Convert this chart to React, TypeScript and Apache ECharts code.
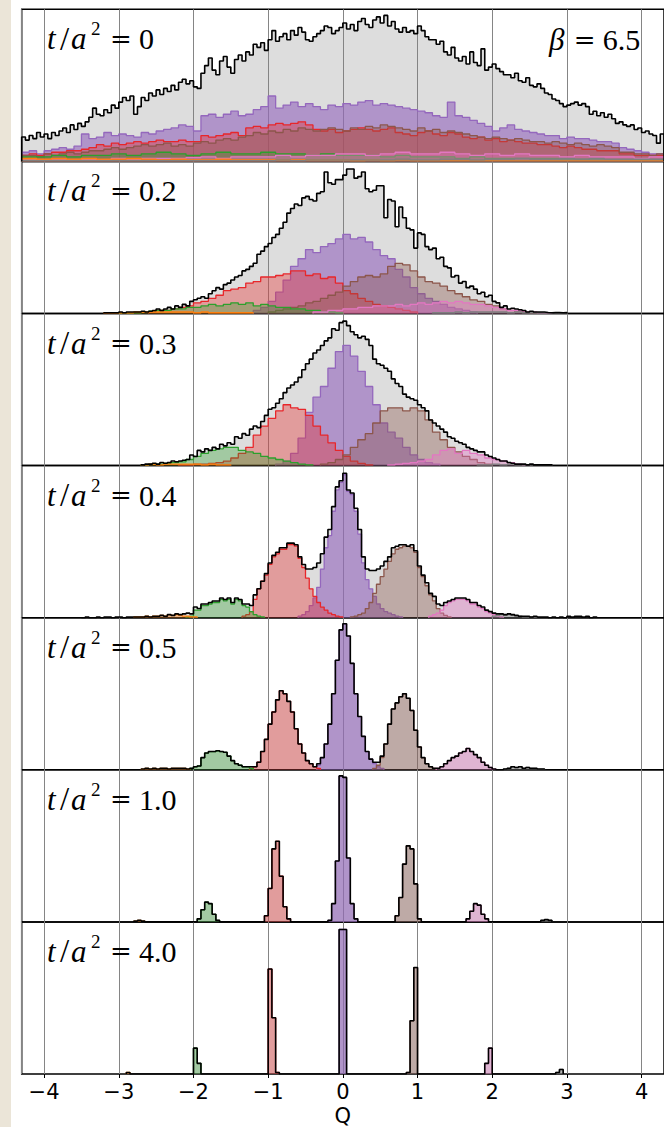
import React, { useEffect, useRef } from "react";
import * as echarts from "echarts";

// ---------------- data ----------------
const Q_MIN = -4.3;
const Q_MAX = 4.3;
const flowTimes = ["0", "0.2", "0.3", "0.4", "0.5", "1.0", "4.0"];
const betaValue = "6.5";
const xTickValues = [-4, -3, -2, -1, 0, 1, 2, 3, 4];

// panel 1 : t/a^2 = 0
const p1_all = { from: -4.3, bin: 0.05, counts: [
  16, 14, 17, 15, 19, 16, 18, 15, 19, 17,
  20, 22, 19, 24, 21, 25, 23, 26, 29, 35,
  31, 30, 34, 32, 37, 35, 39, 42, 40, 43,
  31, 36, 42, 40, 45, 43, 47, 44, 48, 46,
  50, 47, 52, 54, 51, 53, 49, 48, 58, 63,
  68, 60, 57, 66, 69, 62, 58, 67, 70, 66,
  72, 70, 77, 75, 78, 73, 80, 86, 79, 82,
  84, 80, 86, 83, 88, 85, 80, 79, 82, 84,
  86, 89, 88, 84, 86, 88, 91, 87, 90, 86,
  92, 94, 90, 88, 93, 95, 91, 96, 89, 92,
  87, 85, 88, 85, 86, 84, 89, 86, 82, 80,
  80, 77, 79, 72, 70, 75, 68, 66, 69, 64,
  72, 65, 63, 74, 60, 62, 64, 61, 59, 57,
  57, 55, 58, 53, 52, 55, 50, 49, 51, 48,
  45, 44, 41, 40, 38, 36, 37, 38, 39, 37,
  38, 36, 31, 33, 30, 32, 29, 31, 28, 25,
  26, 24, 23, 24, 21, 22, 19, 20, 18, 17,
  12, 18] };
const p1_q0 = { from: -4.3, bin: 0.1, counts: [
  6, 7, 5, 7, 8, 9, 8, 10, 18, 15,
  16, 19, 17, 18, 17, 16, 19, 18, 20, 21,
  22, 24, 23, 20, 30, 31, 29, 31, 33, 30,
  31, 34, 36, 43, 35, 37, 39, 36, 38, 36,
  34, 37, 36, 38, 37, 39, 40, 37, 38, 37,
  36, 35, 34, 33, 32, 30, 29, 39, 30, 29,
  27, 25, 23, 20, 22, 24, 21, 20, 19, 18,
  17, 17, 15, 16, 15, 15, 14, 13, 13, 12,
  9, 8, 7, 6, 5, 5] };
const p1_qm1 = { from: -4.3, bin: 0.1, counts: [
  4, 5, 4, 5, 6, 6, 7, 7, 8, 9,
  11, 10, 12, 11, 12, 13, 12, 13, 14, 13,
  13, 14, 13, 13, 17, 16, 17, 18, 19, 17,
  22, 23, 22, 24, 25, 24, 25, 26, 24, 21,
  20, 21, 19, 20, 21, 22, 21, 20, 21, 22,
  19, 18, 17, 19, 20, 18, 17, 19, 18, 16,
  15, 16, 14, 15, 13, 14, 13, 12, 12, 11,
  11, 10, 9, 10, 9, 8, 8, 7, 7, 7,
  5, 5, 4, 4, 4, 4] };
const p1_qp1 = { from: -4.3, bin: 0.1, counts: [
  4, 4, 3, 5, 4, 5, 6, 5, 6, 7,
  7, 8, 9, 8, 9, 10, 11, 10, 11, 12,
  10, 11, 10, 12, 13, 12, 14, 15, 14, 16,
  17, 19, 18, 20, 19, 21, 20, 22, 21, 20,
  21, 22, 21, 20, 22, 21, 23, 22, 24, 23,
  22, 21, 20, 22, 20, 21, 19, 20, 19, 18,
  17, 16, 15, 16, 15, 14, 15, 14, 13, 13,
  12, 13, 12, 11, 12, 11, 10, 11, 10, 9,
  6, 6, 5, 5, 4, 5] };
const p1_qm2 = { from: -4.3, bin: 0.2, counts: [
  3, 3, 4, 3, 4, 4, 5, 4, 5, 6, 5, 4, 5, 6, 5, 5, 6, 5, 5, 4,
  5, 4, 4, 4, 3, 4, 3, 3, 3, 2, 3, 2, 2, 2, 2, 2, 1.5, 1.5, 1, 1, 1, 1, 1] };
const p1_qp2 = { from: -4.3, bin: 0.2, counts: [
  1, 1, 1, 1, 1.5, 1, 2, 1.5, 2, 2, 2, 2.5, 3, 2, 3, 3, 3, 4, 3, 4,
  4, 5, 5, 4, 5, 6, 5, 5, 6, 5, 4, 5, 4, 5, 4, 4, 3, 4, 3, 3, 3, 2, 3] };
const p1_qm3 = { from: -4.3, bin: 0.2, counts: [
  2, 1.5, 2, 1.5, 2, 1.5, 1.5, 2, 1.5, 1, 1.5, 1, 1, 1.5, 1, 1, 1, 1, 1, 1,
  1, 1, 0.5, 1, 0.5, 1, 0.5, 0.5, 0.5, 0.5, 0.5, 0.5, 0.5, 0.5, 0.5, 0.5, 0.5, 0.5, 0.5, 0.5, 0.5, 0.5, 0.5] };
const p1_qp3 = { from: -4.3, bin: 0.2, counts: [
  0.5, 0.5, 0.5, 0.5, 0.5, 0.5, 0.5, 0.5, 0.5, 0.5, 0.5, 0.5, 0.5, 0.5, 0.5, 0.5, 0.5, 1, 0.5, 1,
  1, 1, 1, 1, 1, 1.5, 1, 1, 1.5, 1.5, 1, 1.5, 1.5, 2, 1.5, 1.5, 2, 1.5, 2, 1.5, 1.5, 1.5, 1.5] };

// panel 2 : t/a^2 = 0.2
const p2_all = { from: -3.2, bin: 0.05, counts: [
  0.5, 0.5, 0.5, 0.5, 1, 0.5, 1, 1, 1, 1,
  1.5, 1, 1.5, 2, 3, 2, 3, 4, 3, 5,
  4, 6, 5, 8, 9, 10, 11, 10, 13, 15,
  17, 16, 19, 20, 22, 24, 25, 28, 29, 31,
  33, 39, 41, 44, 46, 50, 52, 56, 60, 66,
  69, 72, 71, 76, 77, 75, 74, 79, 80, 93,
  86,
  85, 88, 88, 91, 95, 95, 89, 90, 93, 82,
  80, 81, 84, 84, 63, 75, 74, 57, 70, 63,
  56, 55, 43, 53, 52, 44, 42, 43, 36, 37,
  31, 30, 24, 25, 20, 21, 17, 18, 16, 13,
  14, 11, 12, 8, 7, 4, 5, 3, 3.5, 3,
  2.5, 2, 1, 1.5, 1, 1, 1, 0.7, 0.5, 0.7,
  0.7, 0.5, 0.7] };
const p2_q0 = { from: -1.2, bin: 0.1, counts: [
  2, 4, 8, 14, 22, 31, 36, 42, 40, 44, 46, 49, 52, 49, 50, 47, 42, 38, 36, 29,
  24, 17, 13, 10, 8, 6, 4, 3, 2, 1] };
const p2_qm1 = { from: -2.6, bin: 0.1, counts: [
  1, 2, 2, 3, 4, 5, 7, 8, 10, 12, 15, 16, 17, 20, 21, 24, 24, 25, 26, 28,
  28, 25, 26, 23, 24, 20, 15, 13, 10, 8, 6, 5, 4, 3, 2, 1] };
const p2_qp1 = { from: -1.0, bin: 0.1, counts: [
  1, 2, 3, 4, 5, 7, 8, 10, 12, 14, 18, 21, 24, 25, 24, 26, 31, 33, 32, 28,
  24, 21, 20, 18, 15, 13, 11, 9, 8, 6, 5, 3, 2, 1, 1, 0.5] };
const p2_qm2 = { from: -3.0, bin: 0.1, counts: [
  0.5, 0.5, 0.5, 1, 1.5, 2, 2, 3, 3, 4, 4, 5, 6, 5, 6, 7, 6, 7, 5, 6,
  5, 4, 4, 3, 3, 2, 2, 1, 1, 0.5] };
const p2_qp2 = { from: -0.4, bin: 0.1, counts: [
  1, 1, 2, 2, 3, 3, 4, 4, 5, 5, 5, 6, 5, 6, 7, 6, 7, 8, 7, 8,
  7, 6, 6, 5, 4, 3, 2, 2, 1, 1, 0.5, 0.5] };
const p2_qm3 = { from: -3.2, bin: 0.1, counts: [
  0.5, 0.5, 0.5, 0.5, 1, 1, 1, 1, 1, 1, 1, 1, 0.5, 1, 0.5, 0.5, 0.5, 0.5, 0.5, 0.5] };
const p2_qp3 = { from: 1.2, bin: 0.1, counts: [
  0.5, 0.5, 0.5, 1, 0.5, 1, 1, 1, 1, 1, 0.5, 1, 0.5, 0.5, 0.5, 0.5, 0.5, 0.5] };

// panel 3 : t/a^2 = 0.3
const p3_all = { from: -2.7, bin: 0.05, counts: [
  0.5, 1, 1, 1.5, 1, 2, 1.5, 2, 3, 2.5,
  3, 3.5, 4, 7, 6, 10, 9, 11, 10, 12,
  11, 14, 13, 15, 14, 19, 18, 21, 20, 24,
  26, 25, 29, 33, 37, 38, 41, 44, 48, 51,
  53, 55, 58, 63, 67, 70, 74, 76, 79, 82,
  84, 90, 89, 94, 95, 92, 88, 86, 84, 85,
  83, 79, 70, 67, 66, 64, 62, 57, 54, 52,
  47, 45, 44, 43, 40, 38, 36, 30, 28, 26,
  24, 22, 19, 18, 16, 15, 14, 12, 11, 10,
  9, 9, 7, 6, 5, 4, 3, 3, 2, 1.5,
  1, 1, 1, 0.5, 1, 0.5, 0.5, 0.5, 0.5, 0.5] };
const p3_q0 = { from: -0.9, bin: 0.1, counts: [
  1, 3, 8, 18, 35, 45, 52, 64, 75, 79, 72, 62, 52, 40, 28, 22, 18, 12, 7, 4, 2, 1] };
const p3_qm1 = { from: -2.2, bin: 0.1, counts: [
  0.5, 0.5, 1, 1, 1.5, 2, 3, 5, 8, 12, 20, 26, 31, 36, 40, 38, 37, 33, 26, 20,
  15, 10, 6, 3, 1.5, 0.5] };
const p3_qp1 = { from: -0.3, bin: 0.1, counts: [
  1, 2, 4, 7, 12, 17, 21, 28, 36, 38, 38, 36, 38, 36, 30, 22, 17, 12, 9, 6, 4, 2, 1] };
const p3_qm2 = { from: -2.7, bin: 0.1, counts: [
  0.5, 1, 1, 1.5, 2, 2.5, 4, 6, 8, 10, 11, 12, 12, 10, 9, 8, 6, 5, 4, 3, 2, 1, 0.5] };
const p3_qp2 = { from: 0.6, bin: 0.1, counts: [
  0.5, 1, 1.5, 2, 3, 4, 7, 10, 11, 8, 10, 8, 7, 5, 4, 3, 2, 1, 0.5] };
const p3_qm3 = { from: -2.7, bin: 0.1, counts: [
  0.5, 1, 0.5, 1, 1, 1, 1, 1, 0.5, 1, 0.5, 0.5] };
const p3_qp3 = { from: 1.8, bin: 0.1, counts: [
  0.5, 0.5, 1, 0.5, 1, 0.5, 0.5, 0.5, 0.5, 0.5] };

// panel 4 : t/a^2 = 0.4
const p4_all = { from: -3.5, bin: 0.05, counts: [
  0, 0.5, 0, 0, 0.5, 0, 0.5, 0.5, 0, 0.5,
  0.5, 0, 0.5, 0.5, 0.5, 0.5, 0.5, 1, 0.5, 1,
  1, 1.5, 1, 2, 1.5, 2.5, 2, 2.5, 3, 2.5,
  7, 6, 9, 9, 10, 11, 11, 13, 12, 13,
  10, 13, 12, 9, 9, 8, 15, 19, 24, 29,
  36, 41, 43, 46, 46, 49, 49, 48, 40, 35,
  32, 32, 33, 36, 42, 53, 58, 73, 86, 90,
  95, 84, 82, 72, 58, 40, 32, 31, 31, 32,
  34, 37, 40, 46, 47, 48, 48, 47, 48, 44,
  34, 28, 23, 16, 14, 9, 8, 10, 11, 12,
  13, 13, 13, 12, 10, 10, 8, 7, 5, 4,
  3, 2.5, 2.5, 2, 2.5, 2, 1.5, 1, 1, 1,
  0.5, 1, 0.5, 0.5, 0.5, 0, 0.5, 0, 0.5, 0,
  1, 0.5, 1, 1, 0.5, 1, 0, 0.5] };
const p4_q0 = { from: -0.6, bin: 0.05, counts: [
  1, 2, 4, 8, 13, 20, 32, 46, 54, 70, 84, 89, 94, 83, 81, 70, 55, 36, 25, 19,
  14, 9, 6, 4, 3, 2, 1, 0.5] };
const p4_qm1 = { from: -1.35, bin: 0.05, counts: [
  1, 2, 4, 12, 19, 24, 28, 35, 40, 42, 45, 45, 48, 48, 47, 39, 33, 26, 19, 14,
  10, 7, 5, 3, 2, 1, 0.5] };
const p4_qp1 = { from: 0.1, bin: 0.05, counts: [
  0.5, 1, 2, 3, 6, 10, 16, 22, 27, 32, 37, 42, 45, 46, 47, 47, 46, 43, 33, 27,
  21, 15, 11, 6, 3, 1.5, 0.5] };
const p4_qm2 = { from: -2.1, bin: 0.05, counts: [
  0.5, 1, 5, 5, 8, 8, 9, 10, 10, 12, 11, 12, 9, 12, 11, 8, 7, 4, 2, 1, 0.5] };
const p4_qp2 = { from: 1.15, bin: 0.05, counts: [
  1, 2, 3, 5, 8, 10, 11, 12, 12, 12, 11, 9, 9, 7, 6, 4, 3, 2, 1, 0.5] };
const p4_qm3 = { from: -2.8, bin: 0.05, counts: [
  0.5, 0.5, 0.5, 1, 0.5, 1, 1, 1.5, 1, 2, 1.5, 2, 1.5, 1, 1, 0.5, 0.5] };
const p4_qp3 = { from: 2.0, bin: 0.05, counts: [
  1, 1.5, 2, 1.5, 2, 1.5, 1, 1, 0.5, 0.5, 0.5, 0.5] };

// panel 5 : t/a^2 = 0.5
const p5_all = { from: -2.7, bin: 0.05, counts: [
  0.5, 1, 0.5, 1, 0.5, 1, 1, 0.5, 1, 1,
  1, 1, 0.5, 1, 2, 2.5, 8, 11, 12, 12,
  12.5, 12, 11.5, 9, 6, 4, 3, 2, 2, 2,
  2, 5, 12, 20, 30, 38, 46, 52, 50, 45,
  38, 27, 17, 11, 6, 4, 2, 4, 8, 17,
  30, 50, 72, 92, 96, 88, 70, 50, 35, 22,
  12, 7, 5, 5, 9, 17, 30, 40, 44, 48,
  50, 47, 39, 26, 15, 8, 4, 2, 1, 1,
  2, 4, 6, 8, 9, 11, 12, 14, 12, 10,
  8, 5, 3, 1.5, 0.5, 0, 0, 0.5, 1, 2,
  1.5, 2, 1, 1.5, 1, 1, 0.5, 0.5] };
const p5_q0 = { from: -0.35, bin: 0.05, counts: [
  3, 8, 17, 30, 50, 72, 92, 96, 88, 70, 50, 35, 22, 12, 7, 4, 2, 1] };
const p5_qm1 = { from: -1.25, bin: 0.05, counts: [
  1, 2, 5, 12, 20, 30, 38, 46, 52, 50, 45, 38, 27, 17, 11, 6, 4, 2, 1] };
const p5_qp1 = { from: 0.4, bin: 0.05, counts: [
  1, 3, 8, 17, 30, 40, 44, 48, 50, 47, 39, 26, 15, 8, 4, 2, 1] };
const p5_qm2 = { from: -2.05, bin: 0.05, counts: [
  1, 2, 2.5, 8, 11, 12, 12, 12.5, 12, 11.5, 9, 6, 4, 3, 2, 2, 1] };
const p5_qp2 = { from: 1.25, bin: 0.05, counts: [
  1, 2, 4, 6, 8, 9, 11, 12, 14, 12, 10, 8, 5, 3, 1.5, 0.5] };
const p5_qm3 = { from: -2.7, bin: 0.05, counts: [
  0.5, 1, 0.5, 1, 0.5, 1, 1, 0.5, 1, 1, 1, 1, 0.5] };
const p5_qp3 = { from: 2.15, bin: 0.05, counts: [
  0.5, 1, 2, 1.5, 2, 1, 1.5, 1, 1, 0.5, 0.5] };

// panel 6 : t/a^2 = 1.0
const p6_all = { from: -2.8, bin: 0.05, counts: [
  0.5, 1, 0.5, 0, 0, 0, 0, 0, 0, 0,
  0, 0, 0, 0, 0, 0, 0, 2, 8, 13,
  12, 5, 1, 0, 0, 0, 0, 0, 0, 0,
  0, 0, 0, 0, 0, 4, 22, 48, 53, 30,
  10, 2, 0, 0, 0, 0, 0, 0, 0, 0,
  0, 0, 1, 12, 40, 96, 95, 42, 12, 2,
  0, 0, 0, 0, 0, 0, 0, 0, 0, 0,
  4, 16, 38, 50, 48, 25, 2, 0, 0, 0,
  0, 0, 0, 0, 0, 0, 0, 0, 0, 2,
  7, 12, 11, 5, 2, 0, 0, 0, 0, 0,
  0, 0, 0, 0, 0, 0, 0, 0, 0, 1,
  1.5, 1] };
const p6_q0 = { from: -0.2, bin: 0.05, counts: [1, 12, 40, 96, 95, 42, 12, 2] };
const p6_qm1 = { from: -1.05, bin: 0.05, counts: [4, 22, 48, 53, 30, 10, 2] };
const p6_qp1 = { from: 0.7, bin: 0.05, counts: [4, 16, 38, 50, 48, 25, 2] };
const p6_qm2 = { from: -1.95, bin: 0.05, counts: [2, 8, 13, 12, 5, 1] };
const p6_qp2 = { from: 1.65, bin: 0.05, counts: [2, 7, 12, 11, 5, 2] };
const p6_qm3 = { from: -2.8, bin: 0.05, counts: [0.5, 1, 0.5] };
const p6_qp3 = { from: 2.65, bin: 0.05, counts: [1, 1.5, 1] };

// panel 7 : t/a^2 = 4.0
const p7_all = { from: -2.9, bin: 0.05, counts: [
  1, 0, 0, 0, 0, 0, 0, 0, 0, 0,
  0, 0, 0, 0, 0, 0, 0, 0, 17, 7,
  0, 0, 0, 0, 0, 0, 0, 0, 0, 0,
  0, 0, 0, 0, 0, 0, 0, 0, 69, 37,
  1, 0, 0, 0, 0, 0, 0, 0, 0, 0,
  0, 0, 0, 0, 0, 0, 0, 95, 95, 0,
  0, 0, 0, 0, 0, 0, 0, 0, 0, 0,
  0, 0, 0, 0, 0, 1, 35, 70, 0, 0,
  0, 0, 0, 0, 0, 0, 0, 0, 0, 0,
  0, 0, 0, 0, 0, 0, 7, 17, 0, 0,
  0, 0, 0, 0, 0, 0, 0, 0, 0, 0,
  0, 0, 0, 0, 0, 1, 3] };
const p7_q0 = { from: -0.05, bin: 0.05, counts: [95, 95] };
const p7_qm1 = { from: -1.0, bin: 0.05, counts: [69, 37, 1] };
const p7_qp1 = { from: 0.85, bin: 0.05, counts: [1, 35, 70] };
const p7_qm2 = { from: -2.0, bin: 0.05, counts: [17, 7] };
const p7_qp2 = { from: 1.9, bin: 0.05, counts: [7, 17] };
const p7_qm3 = { from: -2.9, bin: 0.05, counts: [1] };
const p7_qp3 = { from: 2.85, bin: 0.05, counts: [1, 3] };

// ---------------- styles / layout ----------------
const SECTOR_ORDER = ["q0", "qm1", "qp1", "qm2", "qp2", "qm3", "qp3"];
const SECTOR_STYLE: Record<string, { line: string; fill: string }> = {
  q0: { line: "#9467bd", fill: "rgba(148,103,189,0.62)" },
  qm1: { line: "#e8262a", fill: "rgba(232,50,50,0.38)" },
  qp1: { line: "#8c564b", fill: "rgba(140,86,75,0.38)" },
  qm2: { line: "#2ca02c", fill: "rgba(44,160,44,0.33)" },
  qp2: { line: "#e377c2", fill: "rgba(227,119,194,0.4)" },
  qm3: { line: "#ff7f0e", fill: "rgba(255,127,14,0.4)" },
  qp3: { line: "#7f7f7f", fill: "rgba(127,127,127,0.4)" },
};
const TOTAL_FILL = "rgba(128,128,128,0.27)";

type Hist = { from: number; bin: number; counts: number[] };
const PANELS: { all: Hist; sectors: Record<string, Hist> }[] = [
  { all: p1_all, sectors: { q0: p1_q0, qm1: p1_qm1, qp1: p1_qp1, qm2: p1_qm2, qp2: p1_qp2, qm3: p1_qm3, qp3: p1_qp3 } },
  { all: p2_all, sectors: { q0: p2_q0, qm1: p2_qm1, qp1: p2_qp1, qm2: p2_qm2, qp2: p2_qp2, qm3: p2_qm3, qp3: p2_qp3 } },
  { all: p3_all, sectors: { q0: p3_q0, qm1: p3_qm1, qp1: p3_qp1, qm2: p3_qm2, qp2: p3_qp2, qm3: p3_qm3, qp3: p3_qp3 } },
  { all: p4_all, sectors: { q0: p4_q0, qm1: p4_qm1, qp1: p4_qp1, qm2: p4_qm2, qp2: p4_qp2, qm3: p4_qm3, qp3: p4_qp3 } },
  { all: p5_all, sectors: { q0: p5_q0, qm1: p5_qm1, qp1: p5_qp1, qm2: p5_qm2, qp2: p5_qp2, qm3: p5_qm3, qp3: p5_qp3 } },
  { all: p6_all, sectors: { q0: p6_q0, qm1: p6_qm1, qp1: p6_qp1, qm2: p6_qm2, qp2: p6_qp2, qm3: p6_qm3, qp3: p6_qp3 } },
  { all: p7_all, sectors: { q0: p7_q0, qm1: p7_qm1, qp1: p7_qp1, qm2: p7_qm2, qp2: p7_qp2, qm3: p7_qm3, qp3: p7_qp3 } },
];

const W = 664;
const H = 1127;
const GRID_LEFT = 21.7;
const GRID_RIGHT = -2;
const GRID_TOP0 = 9.3;
const PANEL_H = 152.1;
const Y_MAX = 100;
const SERIF = "Liberation Serif";

function stepPoints(h: Hist) {
  const pts: number[][] = [[h.from, 0]];
  h.counts.forEach((c, i) => pts.push([+(h.from + i * h.bin).toFixed(4), c]));
  pts.push([+(h.from + h.counts.length * h.bin).toFixed(4), 0]);
  return pts;
}

function fmtTick(v: number) {
  if (Math.abs(v - Math.round(v)) > 1e-6) return "";
  if (!xTickValues.includes(Math.round(v))) return "";
  return v < 0 ? "\u2212" + Math.abs(v) : String(v);
}

function buildOption() {
  const n = PANELS.length;
  const grid: any[] = [];
  const xAxis: any[] = [];
  const yAxis: any[] = [];
  const series: any[] = [];
  const graphic: any[] = [
    { type: "rect", shape: { x: 0, y: 0, width: 11, height: H }, style: { fill: "#ebe5d8" }, silent: true, z: 0 },
  ];

  PANELS.forEach((p, i) => {
    const top = GRID_TOP0 + i * PANEL_H;
    const last = i === n - 1;
    grid.push({ left: GRID_LEFT, right: GRID_RIGHT, top, height: PANEL_H, show: true, borderColor: "#000", borderWidth: 1.5, backgroundColor: "transparent" });
    xAxis.push({
      type: "value", gridIndex: i, min: Q_MIN, max: Q_MAX, minInterval: 1, maxInterval: 1, splitNumber: 8,
      axisLine: { show: false },
      axisTick: { show: last, length: 4, lineStyle: { color: "#000" } },
      axisLabel: { show: last, formatter: fmtTick, showMinLabel: false, showMaxLabel: false, margin: 7, color: "#000", fontSize: 21, fontFamily: "DejaVu Sans" },
      splitLine: { show: true, lineStyle: { color: "#858585", width: 1 } },
      name: last ? "Q" : "",
      nameLocation: "middle", nameGap: 31,
      nameTextStyle: { color: "#000", fontSize: 21, fontFamily: "DejaVu Sans" },
    });
    yAxis.push({ type: "value", gridIndex: i, min: 0, max: Y_MAX, show: false, splitLine: { show: false } });

    const common = { type: "line", xAxisIndex: i, yAxisIndex: i, step: "end", symbol: "none", showSymbol: false, silent: true, animation: false, clip: true };
    series.push({ ...common, data: stepPoints(p.all), lineStyle: { opacity: 0, width: 0 }, areaStyle: { color: TOTAL_FILL, opacity: 1 }, z: 1 });
    SECTOR_ORDER.forEach((k, j) => {
      const h = p.sectors[k];
      if (!h) return;
      const st = SECTOR_STYLE[k];
      series.push({ ...common, data: stepPoints(h), lineStyle: { color: st.line, width: 1.3 }, areaStyle: { color: st.fill, opacity: 1 }, z: 2 + j * 0.01 });
    });
    series.push({ ...common, data: stepPoints(p.all), lineStyle: { color: "#000", width: 1.6 }, z: 3 });

    graphic.push({
      type: "text", x: 47, y: top + 29.5, silent: true, z: 10,
      style: {
        text: `{t|t}{s|/}{a|a}{p|2}{e|=}{v|${flowTimes[i]}}`,
        fill: "#000", align: "left", verticalAlign: "middle",
        rich: {
          t: { fontFamily: SERIF, fontStyle: "italic", fontSize: 31, width: 13, fill: "#000" },
          s: { fontFamily: SERIF, fontSize: 33, width: 11, fill: "#000" },
          a: { fontFamily: SERIF, fontStyle: "italic", fontSize: 31, width: 20, fill: "#000" },
          p: { fontFamily: SERIF, fontSize: 19, width: 19, padding: [0, 0, 20, 0], fill: "#000" },
          e: { fontFamily: "DejaVu Serif", fontSize: 26, width: 29, fill: "#000" },
          v: { fontFamily: SERIF, fontSize: 30, fill: "#000" },
        },
      },
    });
  });

  graphic.push({
    type: "text", x: 549, y: GRID_TOP0 + 30.5, silent: true, z: 10,
    style: {
      text: `{b|\u03b2}{e|=}{v|${betaValue}}`,
      fill: "#000", align: "left", verticalAlign: "middle",
      rich: {
        b: { fontFamily: SERIF, fontStyle: "italic", fontSize: 31, width: 24.7, fill: "#000" },
        e: { fontFamily: "DejaVu Serif", fontSize: 26, width: 29, fill: "#000" },
        v: { fontFamily: SERIF, fontSize: 30, fill: "#000" },
      },
    },
  });

  return { animation: false, backgroundColor: "#ffffff", grid, xAxis, yAxis, series, graphic };
}

export default function App() {
  const ref = useRef<HTMLDivElement>(null);
  useEffect(() => {
    document.body.style.margin = "0";
    if (!ref.current) return;
    const chart = echarts.init(ref.current, undefined, { renderer: "svg", width: W, height: H });
    chart.setOption(buildOption() as any);
    return () => chart.dispose();
  }, []);
  return <div ref={ref} style={{ position: "absolute", left: 0, top: 0, width: W, height: H, overflow: "hidden" }} />;
}
